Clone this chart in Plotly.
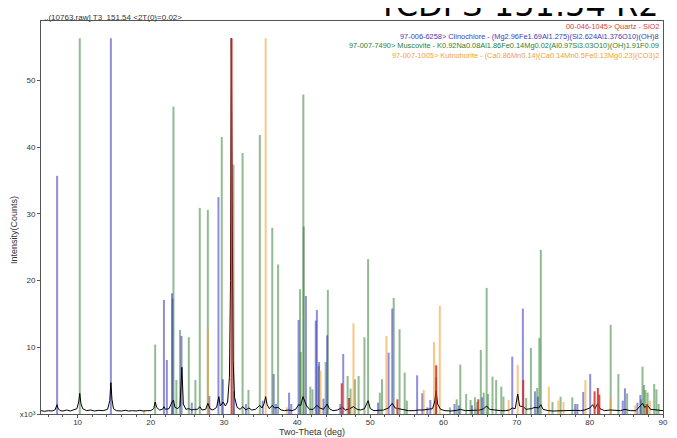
import plotly.graph_objects as go

# ---- data ----
quartz_pos = [31.05, 46.1, 47.1, 53.7, 59.0, 64.75, 70.9, 80.65, 81.1, 81.3, 87.8]
quartz_int = [56.3, 4.6, 2.4, 2.2, 7.3, 2.2, 5.1, 3.4, 3.9, 2.9, 1.5]

clino_pos = [7.2, 14.55, 21.8, 22.2, 22.9, 24.2, 25.6, 28.0, 29.25, 29.85, 31.37, 33.0, 35.3,
             36.8, 37.1, 38.9, 39.2, 40.2, 41.2, 42.55, 42.7, 43.0, 43.6, 44.1, 45.9, 46.3,
             51.05, 52.5, 53.0, 56.4, 57.1, 57.8, 58.2, 59.0, 61.5, 62.1, 63.9, 65.3, 69.4,
             70.85, 72.5, 72.9, 78.0, 78.3, 79.1, 80.05, 84.5, 84.8, 86.5, 86.9]
clino_int = [35.7, 56.3, 17.1, 8.1, 18.1, 11.7, 1.7, 2.7, 32.5, 5.2, 3.4, 1.5, 2.0,
             6.0, 1.5, 3.2, 1.5, 14.1, 17.7, 14.0, 15.6, 7.8, 2.3, 11.8, 1.5, 9.0,
             1.7, 9.2, 15.8, 5.8, 3.1, 1.0, 2.1, 5.5, 1.5, 1.3, 1.3, 2.5, 8.6,
             15.8, 3.4, 2.6, 1.5, 1.5, 3.3, 6.0, 2.0, 3.85, 1.7, 2.85]

musc_pos = [10.3, 20.6, 23.0, 23.1, 23.5, 24.0, 25.2, 26.1, 26.7, 27.8, 29.7, 31.3, 32.55,
            33.35, 34.9, 36.6, 37.4, 40.4, 40.5, 40.85, 40.9, 41.8, 42.1, 42.95, 43.9, 44.2,
            46.9, 47.3, 47.9, 48.4, 49.2, 49.7, 51.3, 51.6, 53.2, 54.0, 54.7, 55.0, 60.9,
            61.8, 62.3, 63.1, 63.7, 64.3, 64.6, 65.1, 65.5, 65.9, 66.1, 66.7, 67.2, 67.9,
            68.2, 71.3, 71.95, 72.8, 73.1, 73.3, 74.9, 76.0, 77.6, 82.85, 83.9, 85.1, 87.0,
            87.2, 87.4, 87.6, 87.9, 88.8, 89.1, 89.4]
musc_int = [56.3, 10.4, 17.3, 46.1, 5.1, 12.6, 11.5, 5.1, 30.9, 30.6, 41.5, 37.4, 39.1,
            3.6, 41.8, 27.9, 22.4, 18.7, 9.3, 47.9, 28.1, 4.1, 3.7, 7.2, 7.8, 18.6,
            5.7, 3.8, 5.2, 5.7, 11.5, 23.2, 3.2, 5.2, 17.4, 12.7, 6.2, 2.0, 1.0,
            2.2, 7.4, 3.0, 2.1, 2.5, 1.8, 9.6, 3.2, 18.9, 3.0, 5.6, 5.1, 4.1,
            2.6, 2.4, 9.9, 3.9, 11.4, 24.6, 1.8, 2.6, 2.5, 13.35, 6.0, 3.1, 2.2,
            7.1, 4.35, 3.6, 3.2, 4.5, 3.7, 1.5]

kutno_pos = [19.07, 27.8, 35.7, 38.6, 43.2, 47.7, 52.2, 57.3, 58.7, 59.5, 68.9, 70.15, 74.4,
             75.7, 76.4, 79.4, 82.85, 86.2, 88.2]
kutno_int = [0.6, 12.9, 56.3, 1.0, 6.5, 13.6, 11.7, 3.6, 10.8, 16.2, 2.1, 7.35, 4.1,
             2.0, 1.8, 5.1, 2.4, 1.3, 2.0]

meas_x = [5.0, 5.5, 6.0, 6.5, 6.9, 7.1, 7.2, 7.3, 7.6, 8.0, 8.5, 9.0, 9.5, 9.9, 10.15, 10.3,
          10.45, 10.7, 11.2, 11.8, 12.3, 12.9, 13.5, 14.1, 14.4, 14.55, 14.7, 14.9, 15.3, 16.0,
          16.5, 17.0, 17.5, 18.0, 18.5, 19.0, 19.5, 20.0, 20.4, 20.6, 20.8, 21.2, 21.6, 21.8,
          22.0, 22.5, 22.9, 23.1, 23.3, 23.7, 24.0, 24.25, 24.45, 24.8, 25.2, 25.6, 26.0, 26.4,
          26.7, 27.0, 27.5, 27.8, 28.1, 28.5, 29.0, 29.3, 29.5, 29.9, 30.2, 30.5, 30.75, 30.9,
          31.0, 31.1, 31.25, 31.45, 31.8, 32.2, 32.6, 33.0, 33.4, 33.8, 34.3, 34.9, 35.2, 35.5,
          35.7, 35.9, 36.2, 36.6, 36.9, 37.4, 37.8, 38.3, 38.8, 39.3, 39.8, 40.2, 40.5, 40.8,
          41.0, 41.3, 41.7, 42.2, 42.7, 43.1, 43.6, 44.1, 44.4, 44.9, 45.5, 46.2, 46.6, 47.2,
          47.7, 48.2, 48.7, 49.2, 49.7, 50.0, 50.5, 51.2, 51.8, 52.5, 53.0, 53.4, 53.9, 54.5,
          55.2, 56.0, 56.5, 57.2, 58.0, 58.5, 58.8, 59.0, 59.2, 59.6, 60.2, 61.0, 61.8, 62.3,
          63.0, 63.7, 64.4, 65.0, 65.5, 65.9, 66.3, 67.0, 67.8, 68.5, 69.0, 69.4, 69.8, 70.15,
          70.4, 70.9, 71.3, 72.0, 72.5, 73.0, 73.3, 73.6, 74.3, 75.0, 75.8, 76.5, 77.3, 78.0,
          78.7, 79.3, 80.0, 80.4, 80.7, 81.1, 81.4, 82.0, 82.8, 83.5, 84.2, 84.8, 85.5, 86.3,
          86.9, 87.2, 87.5, 87.9, 88.3, 88.9, 89.5, 90.0]
meas_y = [0.5, 0.4, 0.5, 0.45, 0.6, 1.0, 1.4, 0.9, 0.5, 0.45, 0.6, 0.45, 0.6, 0.8, 1.8, 3.1,
          1.6, 0.8, 0.5, 0.6, 0.45, 0.55, 0.5, 0.7, 2.0, 4.7, 2.2, 0.8, 0.5, 0.45,
          0.55, 0.45, 0.5, 0.45, 0.55, 0.45, 0.5, 0.5, 0.8, 1.8, 1.0, 0.6, 0.7, 1.1,
          0.7, 0.8, 1.8, 2.1, 1.0, 0.8, 1.2, 7.0, 1.5, 0.7, 0.8, 0.6, 0.7, 0.7,
          1.1, 0.6, 0.7, 1.6, 0.8, 0.6, 1.0, 2.6, 1.2, 1.8, 1.2, 1.8, 5.5, 20.0,
          56.3, 30.0, 8.0, 2.5, 1.0, 0.7, 1.1, 0.6, 0.9, 0.6, 0.7, 1.3, 0.9, 1.6,
          2.6, 1.4, 0.8, 1.3, 0.9, 1.0, 0.6, 0.5, 0.6, 0.5, 0.7, 1.4, 1.3, 2.6,
          2.0, 1.2, 0.7, 0.7, 1.3, 0.9, 0.7, 1.5, 0.8, 0.5, 0.6, 1.0, 0.6, 0.8,
          1.1, 0.7, 0.6, 0.8, 2.0, 0.8, 0.5, 0.6, 0.6, 0.9, 1.6, 0.9, 0.8, 0.6,
          0.5, 0.5, 0.6, 0.6, 0.7, 0.8, 1.8, 3.5, 1.5, 0.7, 0.5, 0.45, 0.55, 0.7,
          0.5, 0.5, 0.6, 0.6, 0.8, 1.2, 0.7, 0.6, 0.5, 0.5, 0.6, 0.9, 0.8, 3.0,
          1.2, 1.1, 0.7, 0.8, 1.0, 0.9, 1.4, 0.7, 0.5, 0.45, 0.5, 0.45, 0.5, 0.55,
          0.5, 0.6, 0.9, 1.4, 0.8, 1.6, 0.8, 0.5, 0.6, 0.5, 0.5, 0.7, 0.5, 0.5,
          1.2, 1.6, 1.0, 1.3, 0.7, 0.6, 0.5, 0.5]

x_ticks = [10, 20, 30, 40, 50, 60, 70, 80, 90]
y_ticks = [0, 10, 20, 30, 40, 50]
y_tick_text = ["x10³", "10", "20", "30", "40", "50"]

legend_lines = [
    ("00-046-1045> Quartz - SiO2", "#d0443a"),
    ("97-006-6258> Clinochlore - (Mg2.96Fe1.69Al1.275)(Si2.624Al1.376O10)(OH)8", "#3c3cb4"),
    ("97-007-7490> Muscovite - K0.92Na0.08Al1.86Fe0.14Mg0.02(Al0.97Si3.03O10)(OH)1.91F0.09", "#2f7d33"),
    ("97-007-1005> Kutnohorite - (Ca0.86Mn0.14)(Ca0.14Mn0.5Fe0.13Mg0.23)(CO3)2", "#f0a040"),
]


def sticks(pos, inten):
    xs, ys = [], []
    for p, h in zip(pos, inten):
        xs += [p, p, None]
        ys += [0, h, None]
    return xs, ys


fig = go.Figure()
phases = [
    (musc_pos, musc_int, "rgba(40,120,40,0.5)"),
    (clino_pos, clino_int, "rgba(50,50,190,0.55)"),
    (kutno_pos, kutno_int, "rgba(245,160,50,0.6)"),
]
for pos, inten, col in phases:
    xs, ys = sticks(pos, inten)
    fig.add_trace(go.Scatter(x=xs, y=ys, mode="lines", line=dict(color=col, width=2),
                             hoverinfo="skip", showlegend=False))

fig.add_trace(go.Scatter(x=meas_x, y=meas_y, mode="lines", line=dict(color="black", width=1),
                         showlegend=False))

qx, qy = sticks(quartz_pos, quartz_int)
fig.add_trace(go.Scatter(x=qx, y=qy, mode="lines", line=dict(color="rgba(210,45,35,0.85)", width=2),
                         hoverinfo="skip", showlegend=False))

tick_font = dict(family="Liberation Sans, Arial", size=8, color="#333333")
title_font = dict(family="Liberation Sans, Arial", size=9, color="#333333")

# page body has an 8px margin, so the figure is 669x430 and starts at (8, 8)
fig.update_layout(
    width=669, height=430,
    margin=dict(l=33, r=14, t=13, b=24),
    paper_bgcolor="white", plot_bgcolor="white",
    showlegend=False,
    xaxis=dict(range=[5, 90], tickvals=x_ticks, ticks="outside", ticklen=3, tickcolor="#555",
               showgrid=False, zeroline=False, showline=True, linecolor="#555", linewidth=1,
               mirror=True, tickfont=tick_font, automargin=False, ticklabelstandoff=-3,
               minor=dict(dtick=2, ticks="outside", ticklen=2, tickcolor="#555")),
    yaxis=dict(range=[0, 58.9], tickvals=y_ticks, ticktext=y_tick_text, ticks="outside", ticklen=3,
               tickcolor="#555", showgrid=False, zeroline=False, showline=True, linecolor="#555",
               linewidth=1, mirror=True, tickfont=tick_font, automargin=False),
)

annotations = [
    dict(text="TCDPS-151.54 R2", xref="paper", yref="paper", x=0.996, y=1, xanchor="right",
         yanchor="bottom", yshift=-5, showarrow=False,
         font=dict(family="DejaVu Sans", size=32, color="black")),
    dict(text=",.(10763.raw] T3  151.54 <2T(0)=0.02>", xref="paper", yref="paper", x=0.002, y=1,
         xanchor="left", yanchor="bottom", yshift=-3, showarrow=False,
         font=dict(family="Liberation Sans, Arial", size=8, color="#333")),
    dict(text="Two-Theta (deg)", xref="paper", yref="paper", x=0.4357, y=0, xanchor="center",
         yanchor="middle", yshift=-18, showarrow=False, font=title_font),
    dict(text="Intensity(Counts)", xref="paper", yref="paper", x=0, y=0.468, xanchor="center",
         yanchor="middle", xshift=-27, textangle=-90, showarrow=False, font=title_font),
]
for i, (txt, col) in enumerate(legend_lines):
    annotations.append(dict(text=txt, xref="paper", yref="paper", x=0.996, y=1, xanchor="right",
                            yanchor="middle", yshift=-5.5 - 9.7 * i, showarrow=False,
                            font=dict(family="Liberation Sans, Arial", size=7.4, color=col)))
fig.update_layout(annotations=annotations)

fig.write_html("out.html")
